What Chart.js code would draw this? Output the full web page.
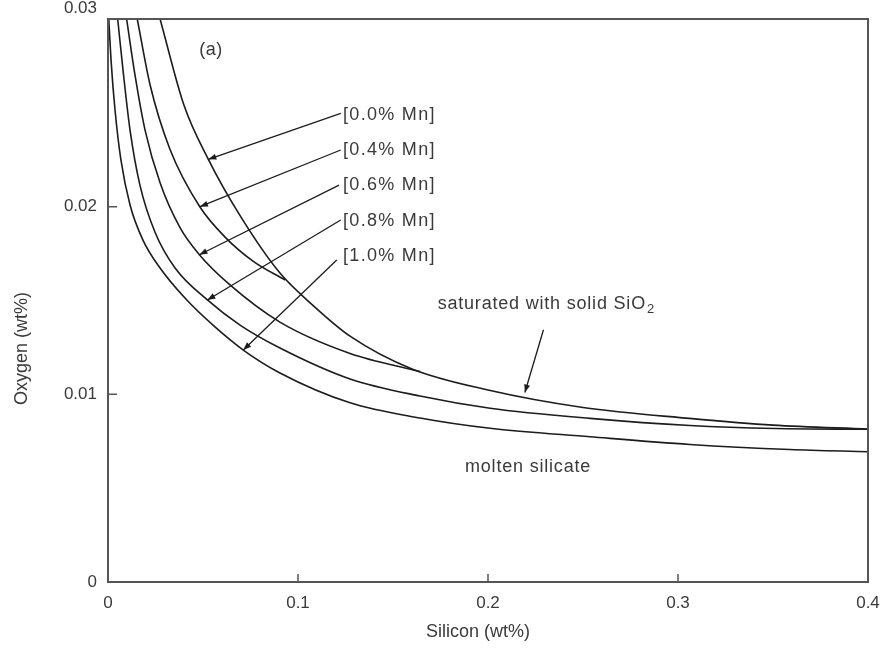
<!DOCTYPE html>
<html><head><meta charset="utf-8">
<script src="https://cdn.jsdelivr.net/npm/chart.js@4.4.1/dist/chart.umd.min.js"></script>
<style>html,body{margin:0;padding:0;background:#fff;overflow:hidden}#wrap{width:882px;height:648px}</style>
</head><body><div id="wrap"><canvas id="c" width="882" height="648"></canvas></div>
<script>
// ---- tick values / labels ----
const siliconTicks = [0, 0.1, 0.2, 0.3, 0.4];
const siliconTickLabels = ['0', '0.1', '0.2', '0.3', '0.4'];
const oxygenTicks = [0, 0.01, 0.02, 0.03];
const oxygenTickLabels = ['0', '0.01', '0.02', ['0.03', '']];
const xTitle = 'Silicon (wt%)';
const yTitle = 'Oxygen (wt%)';

// ---- series (Si wt%, O wt%) ----
const mn00Si = [0.0274, 0.040, 0.0528, 0.070, 0.0905, 0.108, 0.1274, 0.160, 0.200, 0.250, 0.306, 0.350, 0.400];
const mn00O  = [0.0300, 0.0254, 0.02252, 0.01944, 0.01646, 0.01473, 0.0131, 0.01135, 0.01023, 0.0093, 0.00872, 0.00836, 0.00815];

const mn04Si = [0.0154, 0.0221, 0.0326, 0.0484, 0.0616, 0.0763, 0.0932];
const mn04O  = [0.0300, 0.02651, 0.02306, 0.01998, 0.01838, 0.0171, 0.01609];

const mn06Si = [0.0098, 0.0142, 0.0195, 0.0274, 0.0379, 0.0481, 0.0642, 0.0905, 0.1274, 0.1642];
const mn06O  = [0.0300, 0.02702, 0.02408, 0.02127, 0.01888, 0.01744, 0.01583, 0.01385, 0.01218, 0.01122];

const mn08Si = [0.0051, 0.0079, 0.0116, 0.0168, 0.0247, 0.0353, 0.0523, 0.0695, 0.0905, 0.1274, 0.1642, 0.2011, 0.2537, 0.3063, 0.3511, 0.400];
const mn08O  = [0.0300, 0.02728, 0.02408, 0.02115, 0.01865, 0.01673, 0.01503, 0.01369, 0.01247, 0.01082, 0.00991, 0.00926, 0.00872, 0.00834, 0.00818, 0.00814];

const mn10Si = [0.0004, 0.0016, 0.0037, 0.0068, 0.0116, 0.0184, 0.0274, 0.0405, 0.0563, 0.0712, 0.0905, 0.1274, 0.1642, 0.2011, 0.2537, 0.3063, 0.3589, 0.400];
const mn10O  = [0.0300, 0.02781, 0.02515, 0.02249, 0.02009, 0.01822, 0.01673, 0.01513, 0.01359, 0.01236, 0.01114, 0.00955, 0.00874, 0.00819, 0.00774, 0.00733, 0.00706, 0.00694];

const seriesNames = ['[0.0% Mn]', '[0.4% Mn]', '[0.6% Mn]', '[0.8% Mn]', '[1.0% Mn]'];

// ---- annotations (data units) ----
const labelSi = [0.1237, 0.1237, 0.1237, 0.1237, 0.1237];
const labelO  = [0.02488, 0.02302, 0.02115, 0.01924, 0.01737];
const arrowFromSi = [0.1225, 0.1225, 0.1216, 0.1225, 0.1204];
const arrowFromO  = [0.02497, 0.02302, 0.02115, 0.01929, 0.01716];
const arrowToSi   = [0.0528, 0.0484, 0.0481, 0.0523, 0.0712];
const arrowToO    = [0.02252, 0.0200, 0.01744, 0.01503, 0.01236];
const panelLabel = {text: '(a)', si: 0.0542, o: 0.02835};
const satLabel = {text: 'saturated with solid SiO', sub: '2', si: 0.1735, o: 0.01481};
const satArrow = {fromSi: 0.2292, fromO: 0.01344, toSi: 0.2194, toO: 0.0101};
const moltenLabel = {text: 'molten silicate', si: 0.1879, o: 0.00613};

const pairs = (xs, ys) => xs.map((x, i) => ({x: x, y: ys[i]}));
const LINE = '#1c1c1c';
const FONT = "'Liberation Sans', Arial, sans-serif";
const TEXT = '#3a3a3a';

function mkDs(label, xs, ys) {
  return {label, data: pairs(xs, ys), borderColor: LINE, borderWidth: 1.6, pointRadius: 0,
    fill: false, cubicInterpolationMode: 'monotone'};
}

const frame = {
  id: 'frame',
  afterDraw(chart) {
    const {ctx, chartArea: a, scales} = chart;
    ctx.save();
    ctx.strokeStyle = '#555';
    ctx.lineWidth = 1.5;
    ctx.beginPath();
    siliconTicks.slice(1, -1).forEach(v => {
      const px = scales.x.getPixelForValue(v);
      ctx.moveTo(px, a.bottom); ctx.lineTo(px, a.bottom - 8);
    });
    oxygenTicks.slice(1, -1).forEach(v => {
      const py = scales.y.getPixelForValue(v);
      ctx.moveTo(a.left, py); ctx.lineTo(a.left + 9, py);
    });
    ctx.stroke();
    ctx.lineWidth = 2;
    ctx.strokeRect(a.left, a.top, a.right - a.left, a.bottom - a.top);
    // axis titles
    ctx.fillStyle = TEXT;
    ctx.font = '18px ' + FONT;
    ctx.textAlign = 'center';
    ctx.textBaseline = 'middle';
    ctx.fillText(xTitle, (a.left + a.right) / 2 - 10, 632);
    ctx.translate(22, (a.top + a.bottom) / 2 + 48);
    ctx.rotate(-Math.PI / 2);
    ctx.fillText(yTitle, 0, 0);
    ctx.restore();
  }
};

function arrow(ctx, x1, y1, x2, y2) {
  ctx.beginPath(); ctx.moveTo(x1, y1); ctx.lineTo(x2, y2); ctx.stroke();
  const ang = Math.atan2(y2 - y1, x2 - x1);
  const L = 8, W = 3;
  ctx.beginPath();
  ctx.moveTo(x2, y2);
  ctx.lineTo(x2 - L * Math.cos(ang) + W * Math.sin(ang), y2 - L * Math.sin(ang) - W * Math.cos(ang));
  ctx.lineTo(x2 - L * Math.cos(ang) - W * Math.sin(ang), y2 - L * Math.sin(ang) + W * Math.cos(ang));
  ctx.closePath(); ctx.fill();
}

const notes = {
  id: 'notes',
  afterDatasetsDraw(chart) {
    const {ctx, scales: {x, y}} = chart;
    const X = v => x.getPixelForValue(v), Y = v => y.getPixelForValue(v);
    ctx.save();
    ctx.strokeStyle = LINE; ctx.fillStyle = LINE; ctx.lineWidth = 1.3;
    for (let i = 0; i < seriesNames.length; i++) {
      arrow(ctx, X(arrowFromSi[i]), Y(arrowFromO[i]), X(arrowToSi[i]), Y(arrowToO[i]));
    }
    arrow(ctx, X(satArrow.fromSi), Y(satArrow.fromO), X(satArrow.toSi), Y(satArrow.toO));
    ctx.fillStyle = TEXT;
    ctx.textBaseline = 'middle';
    ctx.font = '18px ' + FONT;
    ctx.letterSpacing = '1.3px';
    ctx.textAlign = 'left';
    for (let i = 0; i < seriesNames.length; i++) {
      ctx.fillText(seriesNames[i], X(labelSi[i]), Y(labelO[i]));
    }
    ctx.letterSpacing = '0.5px';
    ctx.textAlign = 'center';
    ctx.fillText(panelLabel.text, X(panelLabel.si), Y(panelLabel.o));
    ctx.textAlign = 'left';
    ctx.letterSpacing = '0.8px';
    const sx = X(satLabel.si), sy = Y(satLabel.o);
    ctx.fillText(satLabel.text, sx, sy);
    const w = ctx.measureText(satLabel.text).width;
    ctx.font = '13px ' + FONT;
    ctx.fillText(satLabel.sub, sx + w + 1, sy + 5);
    ctx.font = '18px ' + FONT;
    ctx.fillText(moltenLabel.text, X(moltenLabel.si), Y(moltenLabel.o));
    ctx.restore();
  }
};

new Chart(document.getElementById('c'), {
  type: 'line',
  data: {datasets: [
    mkDs(seriesNames[0], mn00Si, mn00O),
    mkDs(seriesNames[1], mn04Si, mn04O),
    mkDs(seriesNames[2], mn06Si, mn06O),
    mkDs(seriesNames[3], mn08Si, mn08O),
    mkDs(seriesNames[4], mn10Si, mn10O)
  ]},
  options: {
    responsive: false, animation: false, devicePixelRatio: 1,
    layout: {padding: {left: 0, right: 14, top: 19, bottom: 0}},
    plugins: {legend: {display: false}, tooltip: {enabled: false}},
    scales: {
      x: {type: 'linear', min: 0, max: 0.4,
        afterBuildTicks: s => { s.ticks = siliconTicks.map(v => ({value: v})); },
        afterFit: s => { s.height = 66; s.paddingLeft = 0; s.paddingRight = 0; },
        grid: {display: false, drawTicks: false},
        border: {display: false},
        ticks: {padding: 11, color: TEXT, font: {family: FONT, size: 17}, maxRotation: 0,
          callback: (v, i) => siliconTickLabels[i]},
        title: {display: false}
      },
      y: {type: 'linear', min: 0, max: 0.03,
        afterBuildTicks: s => { s.ticks = oxygenTicks.map(v => ({value: v})); },
        afterFit: s => { s.width = 108; s.paddingTop = 0; s.paddingBottom = 0; },
        grid: {display: false, drawTicks: false},
        border: {display: false},
        ticks: {padding: 11, color: TEXT, font: {family: FONT, size: 17},
          callback: (v, i) => oxygenTickLabels[i]},
        title: {display: false}
      }
    }
  },
  plugins: [frame, notes]
});
</script></body></html>
